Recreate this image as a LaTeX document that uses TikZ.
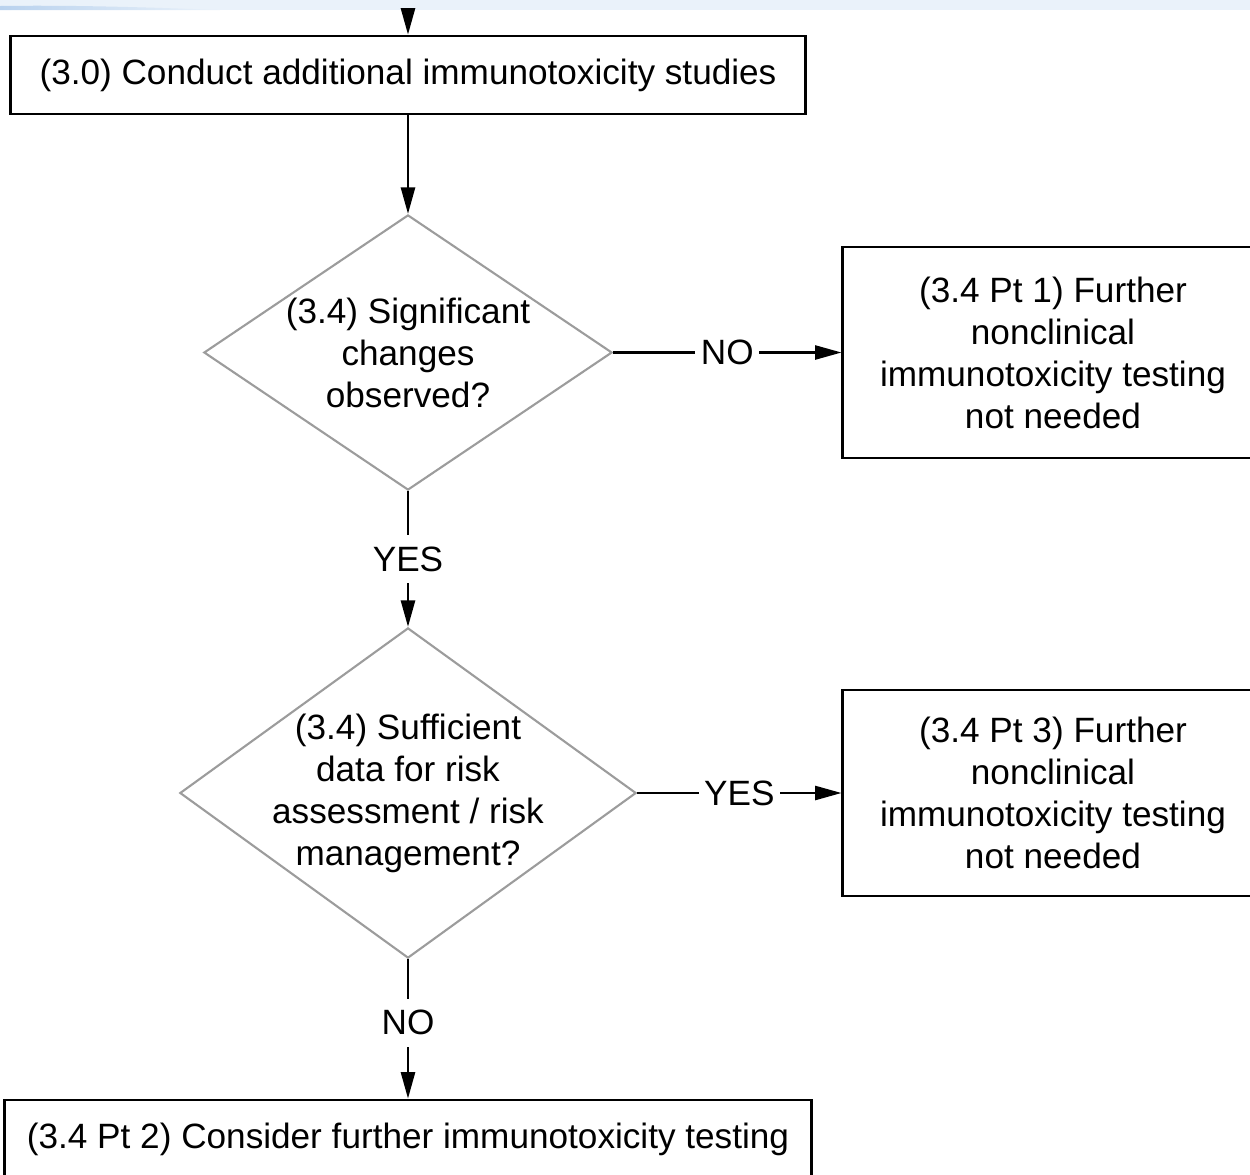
\documentclass[tikz,border=0pt]{standalone}
\usepackage{fontspec}
\setmainfont{Liberation Sans}
\usepackage{xcolor}
\usepackage{tikz}
\usetikzlibrary{shapes.geometric}
\usetikzlibrary{arrows.meta}
\definecolor{BandBlue}{HTML}{EAF2FA}
\definecolor{SwooshBlue}{HTML}{B9D2EE}
\definecolor{EdgeGray}{HTML}{9C9C9C}

\tikzset{
  stepbox/.style = {draw, line width = .8pt, align = center, inner sep = 0pt},
  decision/.style = {diamond, draw = EdgeGray, line width = .6pt, align = center,
    inner sep = -80pt},
  flow/.style = {line width = .65pt, -{Triangle[length = 7.5pt, width = 4pt]}},
  answer/.style = {fill = white, inner xsep = 1.6pt, inner ysep = 3.2pt}
}

\begin{document}
\begin{tikzpicture}[x = .01cm, y = -.01cm,
    every node/.style = {font = \fontsize{10}{11.95}\selectfont}]
  \useasboundingbox (0,0) rectangle (1250,1175);

  % page band
  \fill[BandBlue] (0,0) rectangle (1250,10);
  \shade[left color = SwooshBlue, right color = BandBlue]
    (0,6) .. controls (70,5) and (140,7) .. (220,10) -- (0,10) -- cycle;

  % boxes
  \node[stepbox, minimum width = 7.94cm, minimum height = .78cm]
    (conduct) at (408,75) {(3.0) Conduct additional immunotoxicity studies};
  \node[stepbox, minimum width = 4.2cm, minimum height = 2.11cm]
    (pt1) at (1053,352.5) {(3.4 Pt 1) Further\\ nonclinical\\
      immunotoxicity testing\\ not needed};
  \node[stepbox, minimum width = 4.2cm, minimum height = 2.06cm]
    (pt3) at (1053,793) {(3.4 Pt 3) Further\\ nonclinical\\
      immunotoxicity testing\\ not needed};
  \node[stepbox, minimum width = 8.07cm, minimum height = .78cm]
    (pt2) at (408,1139) {(3.4 Pt 2) Consider further immunotoxicity testing};

  % decisions
  \node[decision, minimum width = 4.08cm, minimum height = 2.75cm]
    (signif) at (408,352.5) {(3.4) Significant\\ changes\\ observed?};
  \node[decision, minimum width = 4.56cm, minimum height = 3.3cm]
    (suff) at (408,793) {(3.4) Sufficient\\ data for risk\\
      assessment / risk\\ management?};

  % connectors
  \coordinate (entry) at (408,10);
  \draw[flow] (entry) -- (conduct);
  \draw[flow] (conduct) -- (signif);
  \draw[flow] (signif) -- node[answer] {NO} (pt1);
  \draw[flow] (signif) -- node[answer] {YES} (suff);
  \draw[flow] (suff) -- node[answer] {YES} (pt3);
  \draw[flow] (suff) -- node[answer, yshift = .06cm] {NO} (pt2);

\end{tikzpicture}
\end{document}
